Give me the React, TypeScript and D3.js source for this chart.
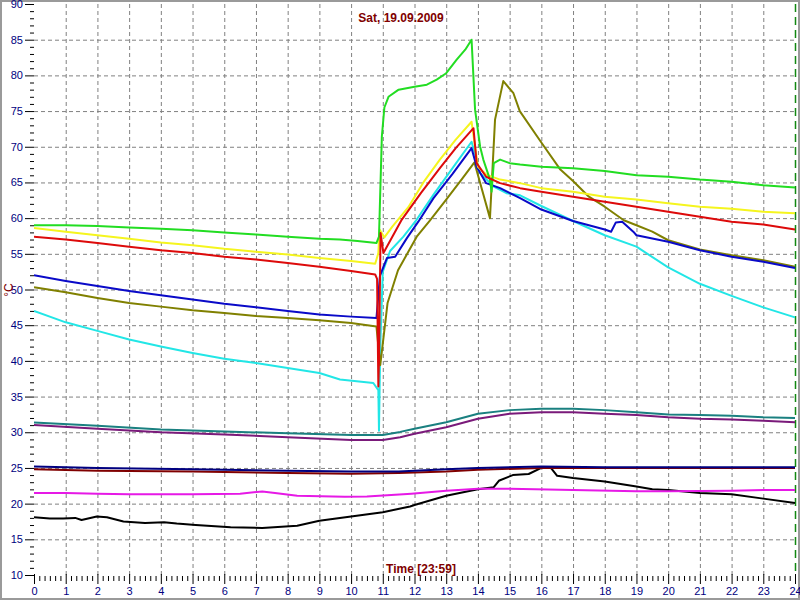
import * as d3 from 'd3';

type Pt = [number, number];

// hour of day, temperature in °C
const greenSeries: Pt[] = [
  [0, 59.0], [1, 59.0], [2, 58.9], [3, 58.7], [4, 58.5], [5, 58.3], [6, 58.0], [7, 57.7], [8, 57.4],
  [9, 57.1], [9.65, 57.0], [10.2, 56.8], [10.8, 56.5], [10.88, 57.4], [10.97, 71.4], [11.05, 75.5],
  [11.18, 77.0], [11.5, 78.0], [12.0, 78.4], [12.39, 78.7], [12.7, 79.4], [13.0, 80.3], [13.33, 82.2],
  [13.6, 83.6], [13.8, 85.0], [13.91, 75.2], [14.07, 70.0], [14.17, 68.2], [14.38, 65.4], [14.43, 63.7],
  [14.5, 67.7], [14.7, 68.2], [15.0, 67.7], [15.33, 67.5], [16, 67.2], [17, 67.0], [18, 66.6], [19, 66.0],
  [20, 65.8], [21, 65.4], [22, 65.1], [23, 64.6], [24, 64.3],
];

const yellowSeries: Pt[] = [
  [0, 58.6], [1, 58.1], [2, 57.6], [3, 57.1], [4, 56.6], [5, 56.2], [6, 55.7], [7, 55.3], [8, 54.9],
  [9, 54.4], [10, 54.0], [10.76, 53.6], [10.86, 55.1], [10.9, 58.4], [11.05, 57.3], [11.3, 58.8],
  [11.8, 61.5], [12.28, 65.0], [12.8, 68.2], [13.3, 71.0], [13.8, 73.5], [14.0, 67.2], [14.26, 66.1],
  [14.7, 65.4], [15.33, 64.9], [16, 64.2], [17, 63.7], [18, 63.0], [19, 62.6], [20, 62.1], [21, 61.6],
  [22, 61.3], [23, 60.9], [24, 60.7],
];

const redSeries: Pt[] = [
  [0, 57.4], [1, 57.0], [2, 56.5], [3, 56.0], [4, 55.5], [5, 55.1], [6, 54.6], [7, 54.2], [8, 53.7],
  [9, 53.2], [10, 52.6], [10.76, 52.1], [10.82, 51.5], [10.86, 36.4], [10.88, 40.0], [10.93, 57.9],
  [11.02, 55.1], [11.6, 59.8], [12.2, 63.5], [12.8, 67.0], [13.3, 69.8], [13.86, 72.6], [13.96, 67.7],
  [14.26, 65.8], [14.7, 64.9], [15.33, 64.2], [16, 63.7], [17, 63.0], [18, 62.3], [19, 61.6], [20, 60.9],
  [21, 60.2], [22, 59.5], [23, 59.1], [24, 58.4],
];

const blueSeries: Pt[] = [
  [0, 52.0], [1, 51.2], [2, 50.5], [3, 49.8], [4, 49.2], [5, 48.6], [6, 48.0], [7, 47.5], [8, 47.0],
  [9, 46.5], [10, 46.2], [10.8, 46.0], [10.84, 48.1], [10.91, 51.9], [11.13, 54.4], [11.39, 54.6],
  [11.76, 57.2], [12.12, 59.5], [12.6, 62.8], [13.2, 66.2], [13.8, 69.8], [13.96, 67.2], [14.26, 64.9],
  [14.7, 64.2], [15.33, 62.8], [16, 61.2], [17, 59.6], [18, 58.4], [18.2, 58.1], [18.35, 59.4],
  [18.55, 59.5], [18.9, 58.1], [19, 57.6], [20, 56.7], [21, 55.5], [22, 54.6], [23, 53.9], [24, 53.0],
];

const cyanSeries: Pt[] = [
  [0, 47.0], [1, 45.4], [2, 44.2], [3, 43.0], [4, 42.0], [5, 41.1], [6, 40.3], [7, 39.7], [8, 39.0],
  [9, 38.3], [9.65, 37.4], [10.7, 36.9], [10.86, 35.9], [10.88, 30.2], [10.92, 42.0], [11.0, 52.5],
  [11.23, 55.4], [11.65, 57.4], [12.07, 59.8], [12.6, 63.3], [13.2, 67.0], [13.8, 70.7], [14.07, 66.3],
  [14.5, 64.4], [14.9, 63.5], [15.33, 63.2], [16, 61.7], [17, 59.6], [18, 57.6], [19, 56.0], [20, 53.1],
  [21, 50.8], [22, 49.1], [23, 47.5], [24, 46.1],
];

const oliveSeries: Pt[] = [
  [0, 50.3], [1, 49.6], [2, 48.8], [3, 48.1], [4, 47.6], [5, 47.1], [6, 46.7], [7, 46.3], [8, 46.0],
  [9, 45.7], [10, 45.3], [10.8, 44.8], [10.92, 39.4], [11.15, 48.1], [11.48, 52.7], [12.07, 57.4],
  [12.49, 59.7], [13.0, 62.6], [13.5, 65.5], [13.89, 67.8], [14.38, 60.0], [14.54, 73.8], [14.8, 79.2],
  [15.12, 77.5], [15.32, 75.0], [16, 70.6], [16.6, 66.8], [17, 65.2], [17.5, 63.0], [18, 61.6],
  [18.6, 59.7], [19, 59.0], [19.5, 58.1], [20, 56.9], [21, 55.6], [22, 54.8], [23, 54.1], [24, 53.2],
];

const tealSeries: Pt[] = [
  [0, 31.35], [2, 30.9], [4, 30.4], [6, 30.1], [8, 29.85], [10, 29.6], [11, 29.6], [11.55, 30.05],
  [12, 30.5], [13, 31.4], [14, 32.6], [15, 33.1], [16, 33.3], [17, 33.3], [18, 33.1], [19, 32.8],
  [20, 32.5], [21, 32.4], [22, 32.3], [23, 32.1], [24, 32.0],
];

const purpleSeries: Pt[] = [
  [0, 31.0], [2, 30.5], [4, 30.0], [6, 29.7], [8, 29.3], [10, 28.9], [11, 28.9], [11.55, 29.3],
  [12, 29.8], [13, 30.7], [14, 31.9], [15, 32.6], [16, 32.8], [17, 32.8], [18, 32.6], [19, 32.4],
  [20, 32.1], [21, 31.9], [22, 31.8], [23, 31.6], [24, 31.4],
];

const navySeries: Pt[] = [
  [0, 25.2], [2, 25.0], [5, 24.8], [8, 24.6], [10, 24.5], [11.5, 24.5], [13, 24.8], [14, 25.0],
  [16, 25.2], [18, 25.1], [24, 25.1],
];

const darkRedSeries: Pt[] = [
  [0, 24.8], [2, 24.6], [5, 24.5], [8, 24.3], [10, 24.2], [11.5, 24.3], [13, 24.5], [14, 24.75],
  [16, 25.0], [18, 25.0], [24, 25.0],
];

const magentaSeries: Pt[] = [
  [0, 21.5], [1, 21.5], [2, 21.4], [3, 21.3], [5, 21.3], [6.5, 21.4], [7.2, 21.7], [7.6, 21.5],
  [8.3, 21.1], [9.8, 20.95], [10.5, 21.0], [11.9, 21.4], [13, 21.8], [14, 22.1], [15, 22.1], [17, 21.9],
  [19, 21.75], [20, 21.75], [22, 21.8], [23, 21.9], [24, 21.9],
];

const blackSeries: Pt[] = [
  [0, 18.1], [0.5, 17.9], [0.92, 17.9], [1.3, 18.0], [1.5, 17.7], [1.98, 18.2], [2.3, 18.1], [2.82, 17.5],
  [3.5, 17.3], [4.1, 17.4], [4.5, 17.2], [5.1, 17.0], [6.2, 16.7], [7.2, 16.6], [8.3, 16.9], [9, 17.6],
  [10, 18.2], [11, 18.8], [11.86, 19.6], [12, 19.8], [13, 21.1], [14, 22.0], [14.5, 22.3], [14.66, 23.2],
  [15.1, 24.0], [15.6, 24.15], [16, 25.0], [16.3, 25.0], [16.5, 23.9], [17, 23.6], [18, 23.1], [19, 22.4],
  [19.5, 22.0], [20, 21.9], [21, 21.5], [22, 21.3], [23, 20.7], [24, 20.1],
];

// drawing order, bottom to top
const seriesList: { data: Pt[]; color: string }[] = [
  { data: blackSeries, color: '#000000' },
  { data: magentaSeries, color: '#e619e6' },
  { data: darkRedSeries, color: '#800000' },
  { data: navySeries, color: '#000080' },
  { data: purpleSeries, color: '#7a1a7a' },
  { data: tealSeries, color: '#1a8080' },
  { data: cyanSeries, color: '#22e6e6' },
  { data: oliveSeries, color: '#808000' },
  { data: blueSeries, color: '#0a0ac8' },
  { data: yellowSeries, color: '#f5f51e' },
  { data: greenSeries, color: '#22dd22' },
  { data: redSeries, color: '#dd0a0a' },
];

const hourTicks = d3.range(0, 25);
const tempTicks = d3.range(10, 91, 5);

const W = 800;
const H = 600;
const left = 34;
const right = 795;
const top = 4;
const bottom = 575;

const labelFont = 'Arial, "Liberation Sans", sans-serif';

export default function App() {
  const x = d3.scaleLinear().domain([0, 24]).range([left, right]);
  const y = d3.scaleLinear().domain([10, 90]).range([bottom, top]);

  const line = d3
    .line<Pt>()
    .x(d => x(d[0]))
    .y(d => y(d[1]));

  const minorY = d3.range(10, 91, 1).filter(v => v % 5 !== 0);
  const minorX = d3.range(0, 24 * 6 + 1).map(i => i / 6).filter((_, i) => i % 6 !== 0);

  return (
    <svg
      width={W}
      height={H}
      style={{ position: 'absolute', left: 0, top: 0, background: '#fff' }}
    >
      <defs>
        <clipPath id="plot">
          <rect x={left} y={0} width={right - left + 1} height={bottom} />
        </clipPath>
      </defs>
      <rect x={1} y={1} width={W - 2} height={H - 2} fill="#fff" stroke="#9a9a9a" strokeWidth={2} />

      {/* grid */}
      <g stroke="#808080" strokeWidth={1} strokeDasharray="4,3">
        {hourTicks.slice(1, 24).map(h => (
          <line key={'gx' + h} x1={x(h) + 0.5} x2={x(h) + 0.5} y1={top} y2={bottom} />
        ))}
        {tempTicks.slice(1, 16).map(v => (
          <line key={'gy' + v} x1={left} x2={right} y1={y(v) + 0.5} y2={y(v) + 0.5} />
        ))}
      </g>
      <line x1={x(24) + 0.5} x2={x(24) + 0.5} y1={top} y2={bottom} stroke="#118811" strokeWidth={1.5} strokeDasharray="8,5" />

      {/* y axis */}
      <g stroke="#000" strokeWidth={1}>
        {tempTicks.map(v => (
          <line key={'ty' + v} x1={25} x2={left} y1={y(v) + 0.5} y2={y(v) + 0.5} />
        ))}
        {minorY.map(v => (
          <line key={'my' + v} x1={30} x2={left} y1={y(v) + 0.5} y2={y(v) + 0.5} />
        ))}
        {hourTicks.map(h => (
          <line key={'tx' + h} x1={x(h) + 0.5} x2={x(h) + 0.5} y1={bottom - 1} y2={bottom + 9} />
        ))}
        {minorX.map(h => (
          <line key={'mx' + h} x1={x(h) + 0.5} x2={x(h) + 0.5} y1={bottom + 1} y2={bottom + 6} />
        ))}
      </g>
      <g fill="#000080" fontFamily={labelFont} fontSize={11}>
        {tempTicks.map(v => (
          <text key={'ly' + v} x={23} y={y(v) + 4} textAnchor="end">
            {v}
          </text>
        ))}
        {hourTicks.map(h => (
          <text key={'lx' + h} x={x(h) + 0.5} y={595} textAnchor="middle">
            {h}
          </text>
        ))}
      </g>

      {/* series */}
      <g clipPath="url(#plot)" fill="none" strokeWidth={2} strokeLinejoin="round">
        {seriesList.map((s, i) => (
          <path key={i} d={line(s.data) || ''} stroke={s.color} />
        ))}
      </g>

      {/* titles */}
      <g fill="#800000" fontFamily={labelFont} fontWeight="bold" fontSize={12}>
        <text x={401} y={22} textAnchor="middle">
          Sat, 19.09.2009
        </text>
        <text x={421} y={573} textAnchor="middle">
          Time [23:59]
        </text>
        <text transform="translate(13,290) rotate(-90)" textAnchor="middle" fontWeight="normal">
          °C
        </text>
      </g>
    </svg>
  );
}
